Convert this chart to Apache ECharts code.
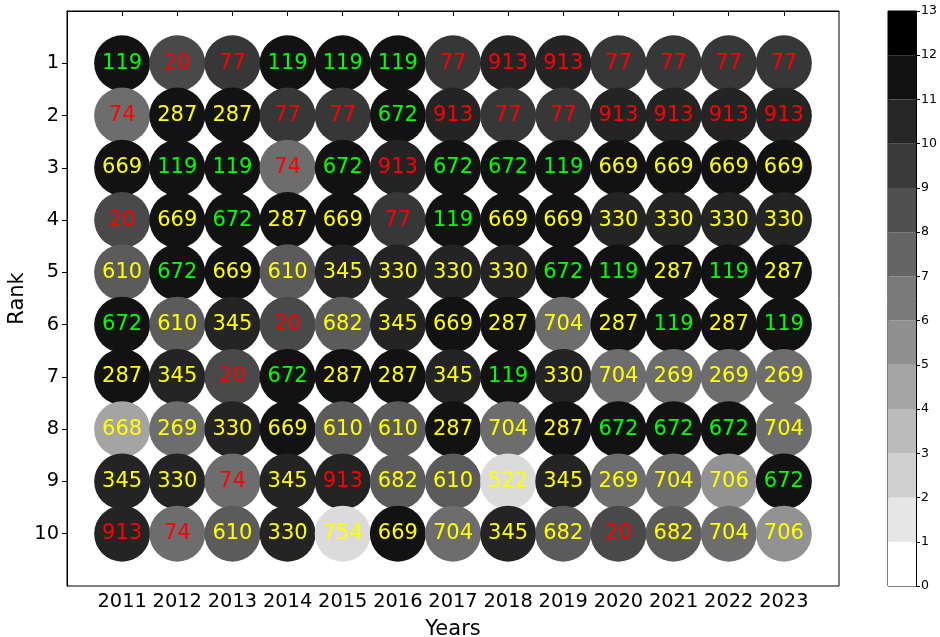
<!DOCTYPE html>
<html>
<head>
<meta charset="utf-8">
<script src="https://cdn.jsdelivr.net/npm/echarts@6/dist/echarts.min.js"></script>
<style>
  html, body { margin: 0; padding: 0; background: #fff; }
  #chart { width: 940px; height: 637px; }
</style>
</head>
<body>
<div id="chart"></div>
<script>
// years on x, ranks on y
var years = [2011, 2012, 2013, 2014, 2015, 2016, 2017, 2018, 2019, 2020, 2021, 2022, 2023];
var ranks = [1, 2, 3, 4, 5, 6, 7, 8, 9, 10];

// one row per rank, one entry per year
var rank1  = [119, 20, 77, 119, 119, 119, 77, 913, 913, 77, 77, 77, 77];
var rank2  = [74, 287, 287, 77, 77, 672, 913, 77, 77, 913, 913, 913, 913];
var rank3  = [669, 119, 119, 74, 672, 913, 672, 672, 119, 669, 669, 669, 669];
var rank4  = [20, 669, 672, 287, 669, 77, 119, 669, 669, 330, 330, 330, 330];
var rank5  = [610, 672, 669, 610, 345, 330, 330, 330, 672, 119, 287, 119, 287];
var rank6  = [672, 610, 345, 20, 682, 345, 669, 287, 704, 287, 119, 287, 119];
var rank7  = [287, 345, 20, 672, 287, 287, 345, 119, 330, 704, 269, 269, 269];
var rank8  = [668, 269, 330, 669, 610, 610, 287, 704, 287, 672, 672, 672, 704];
var rank9  = [345, 330, 74, 345, 913, 682, 610, 522, 345, 269, 704, 706, 672];
var rank10 = [913, 74, 610, 330, 754, 669, 704, 345, 682, 20, 682, 704, 706];
var table = [rank1, rank2, rank3, rank4, rank5, rank6, rank7, rank8, rank9, rank10];

// shade value of each code (0..13 scale)
var codes  = [119, 669, 287, 672, 913, 345, 330, 77, 20, 610, 682, 74, 704, 269, 706, 668, 522, 754];
var scores = [13, 13, 13, 13, 12, 12, 12, 11, 10, 9, 9, 8, 8, 8, 6, 5, 2, 2];

var redCodes = [20, 77, 74, 913];
var greenCodes = [119, 672];

// colorbar levels
var cbLevels = [0, 1, 2, 3, 4, 5, 6, 7, 8, 9, 10, 11, 12];
var cbColors = ['#ffffff', '#e6e6e6', '#d0d0d0', '#bbbbbb', '#a5a5a5', '#8f8f8f', '#7a7a7a',
                '#656565', '#505050', '#3a3a3a', '#262626', '#111111', '#000000'];

var points = [];
for (var r = 0; r < ranks.length; r++) {
  for (var i = 0; i < years.length; i++) {
    var code = table[r][i];
    var col = '#ffff00';
    if (redCodes.indexOf(code) >= 0) col = '#ff0000';
    if (greenCodes.indexOf(code) >= 0) col = '#00ff00';
    points.push({
      value: [years[i], ranks[r], scores[codes.indexOf(code)], code],
      label: { color: col }
    });
  }
}

var font = 'DejaVu Sans';

var cbSeries = cbLevels.map(function (lv, k) {
  return {
    type: 'bar',
    xAxisIndex: 1,
    yAxisIndex: 1,
    stack: 'cb',
    barWidth: '100%',
    silent: true,
    itemStyle: { color: cbColors[k], opacity: 1 },
    data: [1]
  };
});

var option = {
  animation: false,
  backgroundColor: '#ffffff',
  grid: [
    { left: 67, top: 11, width: 772, height: 575, show: true, borderColor: '#000', borderWidth: 1,
      outerBoundsMode: 'none', containLabel: false },
    { left: 888, top: 11, width: 28, height: 575, show: true, borderColor: '#000', borderWidth: 1,
      outerBoundsMode: 'none', containLabel: false }
  ],
  xAxis: [
    {
      type: 'value', gridIndex: 0, min: 2010, max: 2024,
      name: 'Years', nameLocation: 'middle', nameGap: 33, nameMoveOverlap: false,
      nameTextStyle: { fontFamily: font, fontSize: 21, color: '#000' },
      axisLine: { show: true, lineStyle: { color: '#000' } },
      axisTick: { show: true, inside: false, length: 5, lineStyle: { color: '#000' }, customValues: years },
      axisLabel: { fontFamily: font, fontSize: 19.4, color: '#000', margin: 6, customValues: years,
        formatter: function (v) { return String(v); } },
      splitLine: { show: false }
    },
    {
      type: 'category', gridIndex: 1, data: ['cb'],
      axisLine: { show: false }, axisTick: { show: false }, axisLabel: { show: false }
    }
  ],
  yAxis: [
    {
      type: 'value', gridIndex: 0, min: 0, max: 11, inverse: true,
      name: 'Rank', nameLocation: 'middle', nameGap: 39, nameMoveOverlap: false,
      nameTextStyle: { fontFamily: font, fontSize: 21, color: '#000' },
      axisLine: { show: true, lineStyle: { color: '#000' } },
      axisTick: { show: true, inside: false, length: 5, lineStyle: { color: '#000' }, customValues: ranks },
      axisLabel: { fontFamily: font, fontSize: 19.4, color: '#000', margin: 8, customValues: ranks },
      splitLine: { show: false }
    },
    {
      type: 'value', gridIndex: 1, min: 0, max: 13, interval: 1, position: 'right',
      axisLine: { show: true, lineStyle: { color: '#000' } },
      axisTick: { show: true, inside: false, length: 4, lineStyle: { color: '#000' } },
      axisLabel: { fontFamily: font, fontSize: 12.5, color: '#000', margin: 5 },
      splitLine: { show: false }
    }
  ],
  visualMap: {
    show: false,
    type: 'continuous',
    seriesIndex: 0,
    dimension: 2,
    min: 0,
    max: 14,
    inRange: { color: ['#ffffff', '#000000'] }
  },
  series: [
    {
      type: 'scatter',
      xAxisIndex: 0,
      yAxisIndex: 0,
      symbol: 'circle',
      symbolSize: 56,
      itemStyle: { opacity: 1 },
      data: points,
      label: {
        show: true,
        position: 'inside',
        fontFamily: font,
        fontSize: 21,
        opacity: 1,
        formatter: function (p) { return p.value[3]; }
      }
    }
  ].concat(cbSeries)
};

var chart = echarts.init(document.getElementById('chart'), null, { renderer: 'canvas' });
chart.setOption(option);
</script>
</body>
</html>
